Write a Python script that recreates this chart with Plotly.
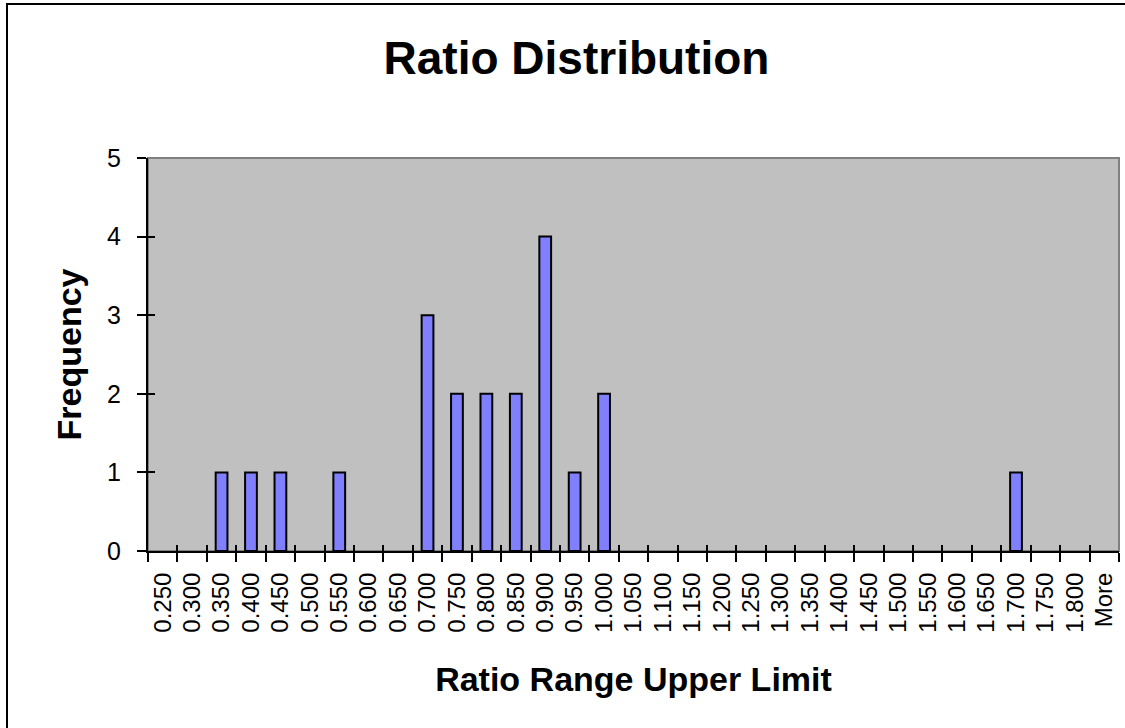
import plotly.graph_objects as go

categories = ["0.250", "0.300", "0.350", "0.400", "0.450", "0.500", "0.550", "0.600",
              "0.650", "0.700", "0.750", "0.800", "0.850", "0.900", "0.950", "1.000",
              "1.050", "1.100", "1.150", "1.200", "1.250", "1.300", "1.350", "1.400",
              "1.450", "1.500", "1.550", "1.600", "1.650", "1.700", "1.750", "1.800", "More"]
frequency = [0, 0, 1, 1, 1, 0, 1, 0,
             0, 3, 2, 2, 2, 4, 1, 2,
             0, 0, 0, 0, 0, 0, 0, 0,
             0, 0, 0, 0, 0, 1, 0, 0, 0]
y_ticks = [0, 1, 2, 3, 4, 5]

W, H = 1125, 728
L, R, T, B = 148, 1119, 158, 551
pw, ph = R - L, B - T

FONT = "Liberation Sans, Arial, sans-serif"

# empty bins draw nothing (no outline at zero)
bar_y = [v if v else None for v in frequency]

fig = go.Figure()
fig.add_trace(go.Bar(
    x=categories, y=bar_y,
    marker=dict(color="#8080FF", line=dict(color="black", width=2)),
    hoverinfo="x+y",
))
# empty helper trace so the overlay axes (inner half of crossing ticks) are drawn
fig.add_trace(go.Scatter(x=[], y=[], xaxis="x2", yaxis="y2", showlegend=False,
                         hoverinfo="skip"))

axis_common = dict(showgrid=False, zeroline=False, tickcolor="black", tickwidth=2)

fig.update_layout(
    width=W, height=H,
    margin=dict(l=L, r=W - R, t=T, b=H - B, pad=0),
    paper_bgcolor="white",
    plot_bgcolor="#C0C0C0",
    bargap=0.6,
    showlegend=False,
    font=dict(family=FONT, color="black"),
    title=dict(text="<b>Ratio Distribution</b>", x=576.5 / W, xanchor="center",
               xref="container", yref="container", y=1 - 58 / H, yanchor="middle",
               font=dict(size=46, family=FONT)),
    xaxis=dict(
        type="category", categoryorder="array", categoryarray=categories,
        tickson="boundaries", ticks="outside", ticklen=9,
        showline=True, linecolor="black", linewidth=2,
        tickangle=-90, tickfont=dict(size=24, family=FONT), ticklabelstandoff=10,
        title=dict(text="<b>Ratio Range Upper Limit</b>", font=dict(size=34, family=FONT),
                   standoff=36),
        **axis_common,
    ),
    yaxis=dict(
        range=[0, 5], tickvals=y_ticks,
        ticks="outside", ticklen=9,
        showline=True, linecolor="black", linewidth=2,
        tickfont=dict(size=25, family=FONT), ticklabelstandoff=11,
        title=dict(text="<b>Frequency</b>", font=dict(size=34, family=FONT), standoff=15),
        **axis_common,
    ),
    xaxis2=dict(
        type="category", categoryorder="array", categoryarray=categories,
        range=[-0.5, len(categories) - 0.5],
        overlaying="x", anchor="y2", side="bottom",
        tickson="boundaries", ticks="inside", ticklen=6, showticklabels=False,
        showline=False, **axis_common,
    ),
    yaxis2=dict(
        range=[0, 5], tickvals=y_ticks, overlaying="y", anchor="x2", side="left",
        ticks="inside", ticklen=7, showticklabels=False, showline=False,
        **axis_common,
    ),
)

# gray plot-area border (top/right)
fig.add_shape(type="rect", xref="paper", yref="paper", x0=0, y0=0, x1=1, y1=1,
              line=dict(color="#808080", width=2), layer="below")
# outer chart frame
fig.add_shape(type="rect", xref="paper", yref="paper",
              x0=(7 - L) / pw, x1=(1135 - L) / pw,
              y0=(B - 740) / ph, y1=(B - 4) / ph,
              line=dict(color="black", width=2), layer="above")

fig.write_html("out.html", config={"displayModeBar": False},
               post_script="document.body.style.margin='0';document.body.style.overflow='hidden';")
